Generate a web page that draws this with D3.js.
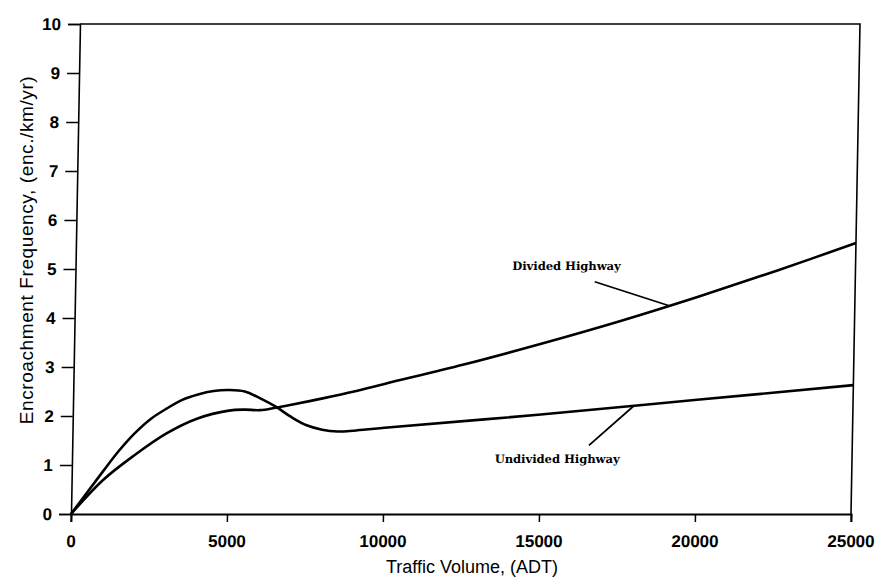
<!DOCTYPE html>
<html>
<head>
<meta charset="utf-8">
<script src="https://cdn.jsdelivr.net/npm/d3@7"></script>
<style>
  html, body { margin: 0; padding: 0; background: #fff; }
  svg { display: block; }
</style>
</head>
<body>
<svg id="chart" width="877" height="579"></svg>
<script>
// Traffic volume (ADT) sample points for each curve
const dividedADT   = [0, 1000, 2000, 3000, 4000, 5000, 5500, 6000, 6500, 7000, 8000, 9000, 10000, 12500, 15000, 17500, 20000, 22500, 25000];
const dividedEnc   = [0, 0.69, 1.20, 1.64, 1.95, 2.11, 2.13, 2.12, 2.17, 2.23, 2.36, 2.50, 2.66, 3.05, 3.48, 3.94, 4.44, 4.97, 5.53];

const undividedADT = [0, 1000, 1500, 2000, 2500, 3000, 3500, 4000, 4500, 5000, 5500, 6000, 6500, 7000, 7500, 8000, 8500, 9000, 10000, 15000, 20000, 25000];
const undividedEnc = [0, 0.87, 1.29, 1.65, 1.94, 2.15, 2.33, 2.44, 2.51, 2.53, 2.50, 2.36, 2.19, 1.98, 1.81, 1.72, 1.685, 1.70, 1.76, 2.03, 2.33, 2.63];

const xTicks = [0, 5000, 10000, 15000, 20000, 25000];
const yTicks = [0, 1, 2, 3, 4, 5, 6, 7, 8, 9, 10];

// Callout labels: text, label anchor (data units), pointer start and end (data units)
const labelNames  = ["Divided Highway", "Undivided Highway"];
const labelAnchor = [[14000, 4.98], [13550, 1.05]];
const labelStart  = [[16650, 4.74], [16560, 1.40]];
const labelEnd    = [[19050, 4.25], [17980, 2.21]];

const W = 780, H = 490;
const svg = d3.select("#chart");

const x = d3.scaleLinear().domain([0, 25000]).range([0, W]);
const y = d3.scaleLinear().domain([0, 10]).range([0, -H]);

// plot frame origin at the lower-left corner; slight lean of the frame
const g = svg.append("g")
  .attr("transform", "translate(71,514) skewX(-1.05)");

// frame (top and right edges)
g.append("path")
  .attr("d", `M${x(0)},${y(10)}H${x(25000)}V${y(0)}`)
  .attr("fill", "none").attr("stroke", "#000").attr("stroke-width", 1.6);

// x axis
const xAxis = g.append("g")
  .call(d3.axisBottom(x).tickValues(xTicks).tickSize(8).tickPadding(13).tickFormat(d3.format("d")));
xAxis.select(".domain").attr("stroke-width", 2);
xAxis.selectAll(".tick line").attr("stroke-width", 1.5);
xAxis.selectAll("text")
  .attr("font-family", "Liberation Sans, Arial, sans-serif")
  .attr("font-size", 17).attr("font-weight", "bold").attr("fill", "#000");

// y axis
const yAxis = g.append("g")
  .call(d3.axisLeft(y).tickValues(yTicks).tickSize(12).tickPadding(7).tickFormat(d3.format("d")));
yAxis.select(".domain").attr("stroke-width", 1.6);
yAxis.selectAll(".tick line").attr("stroke-width", 1.5);
yAxis.selectAll("text")
  .attr("font-family", "Liberation Sans, Arial, sans-serif")
  .attr("font-size", 17).attr("font-weight", "bold").attr("fill", "#000");

// curves
const line = d3.line()
  .x(d => x(d[0])).y(d => y(d[1]))
  .curve(d3.curveCatmullRom.alpha(0.5));

const dividedData = dividedADT.map((v, i) => [v, dividedEnc[i]]);
const undividedData = undividedADT.map((v, i) => [v, undividedEnc[i]]);

[dividedData, undividedData].forEach(data => {
  g.append("path")
    .datum(data)
    .attr("d", line)
    .attr("fill", "none")
    .attr("stroke", "#000")
    .attr("stroke-width", 2.6)
    .attr("stroke-linejoin", "round");
});

// callouts
labelNames.forEach((name, i) => {
  g.append("line")
    .attr("x1", x(labelStart[i][0])).attr("y1", y(labelStart[i][1]))
    .attr("x2", x(labelEnd[i][0])).attr("y2", y(labelEnd[i][1]))
    .attr("stroke", "#000").attr("stroke-width", 1.8);
  g.append("text")
    .attr("x", x(labelAnchor[i][0])).attr("y", y(labelAnchor[i][1]))
    .attr("font-family", "DejaVu Serif, serif")
    .attr("font-weight", "bold")
    .attr("font-size", 11.5)
    .attr("fill", "#000")
    .text(name);
});

// axis titles
svg.append("text")
  .attr("x", 472).attr("y", 573)
  .attr("text-anchor", "middle")
  .attr("font-family", "Liberation Sans, Arial, sans-serif")
  .attr("font-size", 18).attr("fill", "#000")
  .text("Traffic Volume, (ADT)");

svg.append("text")
  .attr("transform", "translate(33,250) rotate(-90)")
  .attr("text-anchor", "middle")
  .attr("font-family", "Liberation Sans, Arial, sans-serif")
  .attr("font-size", 19).attr("letter-spacing", 0.6).attr("fill", "#000")
  .text("Encroachment Frequency, (enc./km/yr)");
</script>
</body>
</html>
